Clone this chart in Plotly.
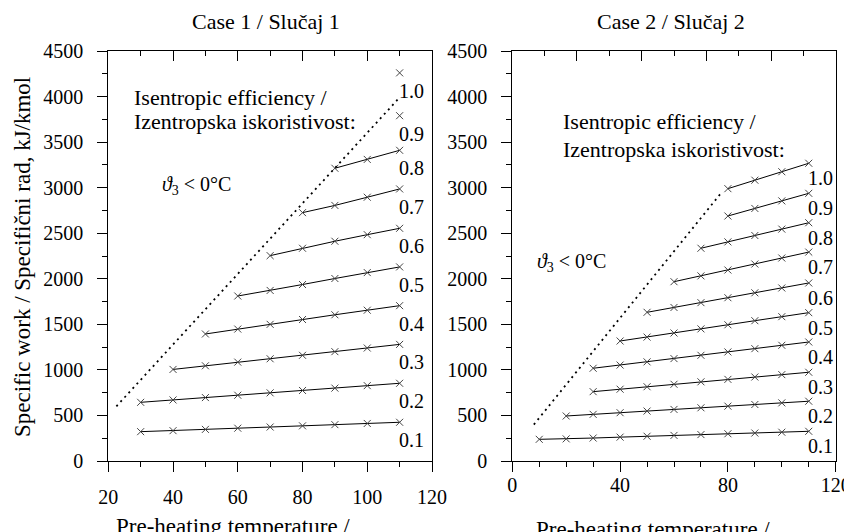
import plotly.graph_objects as go

# ---------------- data ----------------
efficiency_labels = ["0.1", "0.2", "0.3", "0.4", "0.5", "0.6", "0.7", "0.8", "0.9", "1.0"]

# Case 1: first pre-heating temperature of each curve (step 10 °C)
case1_start = [30, 30, 40, 50, 60, 70, 80, 90, 110, 110]
case1_work = [
    [322, 333, 347, 360, 373, 386, 399, 412, 425],
    [644, 670, 696, 722, 748, 774, 800, 827, 853],
    [1005, 1045, 1085, 1122, 1160, 1200, 1240, 1280],
    [1394, 1448, 1500, 1553, 1605, 1655, 1705],
    [1811, 1872, 1937, 2003, 2068, 2130],
    [2254, 2335, 2412, 2484, 2554],
    [2726, 2805, 2895, 2986],
    [3213, 3310, 3410],
    [3790],
    [4260],
]
case1_limit_t = [22.5, 110]
case1_limit_w = [600, 3990]

# Case 2
case2_start = [10, 20, 30, 30, 40, 50, 60, 70, 80, 80]
case2_work = [
    [238, 243, 252, 262, 272, 281, 290, 299, 307, 316, 326],
    [494, 512, 530, 548, 566, 584, 602, 620, 638, 656],
    [761, 788, 815, 842, 869, 896, 922, 948, 974],
    [1018, 1053, 1088, 1124, 1160, 1197, 1233, 1270, 1306],
    [1317, 1360, 1405, 1450, 1495, 1540, 1584, 1628],
    [1632, 1685, 1738, 1792, 1846, 1899, 1954],
    [1968, 2032, 2096, 2162, 2228, 2293],
    [2335, 2405, 2475, 2545, 2615],
    [2689, 2772, 2855, 2938],
    [2989, 3082, 3175, 3268],
]
case2_limit_t = [8, 78]
case2_limit_w = [400, 2960]

TEMP_STEP = 10
FONT = "Liberation Serif, Times New Roman, serif"

fig = go.Figure()


def add_case(starts, works, lt, lw, xa, ya, yshift):
    for lab, s, w in zip(efficiency_labels, starts, works):
        t = [s + TEMP_STEP * i for i in range(len(w))]
        fig.add_trace(go.Scatter(
            x=t, y=w, xaxis=xa, yaxis=ya, mode="lines+markers",
            line=dict(color="black", width=1),
            marker=dict(symbol="x-thin", size=7, line=dict(width=1, color="#444")),
            showlegend=False, hoverinfo="skip"))
        fig.add_annotation(x=t[-1], y=w[-1], xref=xa, yref=ya, text=lab,
                           showarrow=False, xanchor="center", yanchor="middle",
                           xshift=12, yshift=yshift,
                           font=dict(family=FONT, size=20, color="black"))
    fig.add_trace(go.Scatter(
        x=lt, y=lw, xaxis=xa, yaxis=ya, mode="lines",
        line=dict(color="black", width=1.8, dash="2px,4px"),
        showlegend=False, hoverinfo="skip"))


add_case(case1_start, case1_work, case1_limit_t, case1_limit_w, "x", "y", -18)
add_case(case2_start, case2_work, case2_limit_t, case2_limit_w, "x2", "y2", -15)

# dummy traces for top overlay axes
fig.add_trace(go.Scatter(x=[None], y=[None], xaxis="x3", yaxis="y", showlegend=False))
fig.add_trace(go.Scatter(x=[None], y=[None], xaxis="x4", yaxis="y2", showlegend=False))

# page body margin shifts the figure by ~8 px; compensate
OFF = 8
W, H = 852 - OFF, 532 - OFF
L1, R1 = 108.3 - OFF, 432.0 - OFF
L2, R2 = 512.3 - OFF, 835.7 - OFF
TOP, BOT = 51.0 - OFF, 461.0 - OFF
ydom = [(H - BOT) / H, (H - TOP) / H]

tickfont = dict(family=FONT, size=20, color="black")
common_x = dict(showgrid=False, zeroline=False, showline=True, linecolor="black",
                linewidth=1, ticks="outside", tickcolor="black", ticklen=10,
                tickwidth=1, tickfont=tickfont, automargin=False)
common_y = dict(showgrid=False, zeroline=False, showline=True, linecolor="black",
                linewidth=1, mirror=True, ticks="outside", tickcolor="black",
                ticklen=10, tickwidth=1, tickfont=tickfont, range=[0, 4500],
                dtick=500, tick0=0, automargin=False, ticklabelstandoff=10,
                minor=dict(dtick=250, ticks="outside", ticklen=5, tickcolor="black"))

fig.update_layout(
    width=W, height=H, margin=dict(l=0, r=0, t=0, b=0, autoexpand=False),
    paper_bgcolor="white", plot_bgcolor="white", showlegend=False,
    xaxis=dict(common_x, domain=[L1 / W, R1 / W], anchor="y", range=[20, 120],
               tick0=20, dtick=20, ticklabelstandoff=8,
               minor=dict(dtick=10, ticks="outside", ticklen=5, tickcolor="black")),
    yaxis=dict(common_y, domain=ydom, anchor="x"),
    xaxis2=dict(common_x, domain=[L2 / W, R2 / W], anchor="y2", range=[0, 120],
                tick0=0, dtick=40, ticklabelstandoff=-4,
                minor=dict(dtick=10, ticks="outside", ticklen=5, tickcolor="black")),
    yaxis2=dict(common_y, domain=ydom, anchor="x2"),
    xaxis3=dict(overlaying="x", side="top", anchor="y", range=[20, 120],
                showgrid=False, zeroline=False, showline=True, linecolor="black",
                showticklabels=False, ticks="inside", ticklen=10, tickcolor="black",
                tick0=20, dtick=20, automargin=False,
                minor=dict(dtick=10, ticks="inside", ticklen=5, tickcolor="black")),
    xaxis4=dict(overlaying="x2", side="top", anchor="y2", range=[0, 120],
                showgrid=False, zeroline=False, showline=True, linecolor="black",
                showticklabels=False, ticks="inside", ticklen=10, tickcolor="black",
                tick0=0, dtick=24, automargin=False,
                minor=dict(dtick=12, ticks="inside", ticklen=5, tickcolor="black")),
)

txt = dict(family=FONT, color="black")


def ann(x_px, y_px, text, size, xanchor="left", yanchor="middle", angle=0):
    # x_px, y_px are reference-image pixel positions
    fig.add_annotation(x=(x_px - OFF) / W, y=(H - (y_px - OFF)) / H,
                       xref="paper", yref="paper",
                       text=text, showarrow=False, xanchor=xanchor, yanchor=yanchor,
                       textangle=angle, font=dict(txt, size=size))


# titles
ann(266, 22, "Case 1 / Slučaj 1", 22, xanchor="center")
ann(671, 22, "Case 2 / Slučaj 2", 22, xanchor="center")
# efficiency headings
ann(132, 97, "Isentropic efficiency /", 22)
ann(132, 122, "Izentropska iskoristivost:", 22)
ann(561, 122, "Isentropic efficiency /", 22)
ann(561, 149, "Izentropska iskoristivost:", 22)
# region marks
ann(160, 186, "<i>ϑ</i><sub>3</sub> < 0°C", 20)
ann(535, 262, "<i>ϑ</i><sub>3</sub> < 0°C", 20)
# axis titles
ann(22, 257, "Specific work / Specifični rad, kJ/kmol", 23, xanchor="center", angle=-90)
ann(233, 512, "Pre-heating temperature /", 23, xanchor="center", yanchor="top")
ann(653, 515, "Pre-heating temperature /", 23, xanchor="center", yanchor="top")

fig.write_html("out.html")
